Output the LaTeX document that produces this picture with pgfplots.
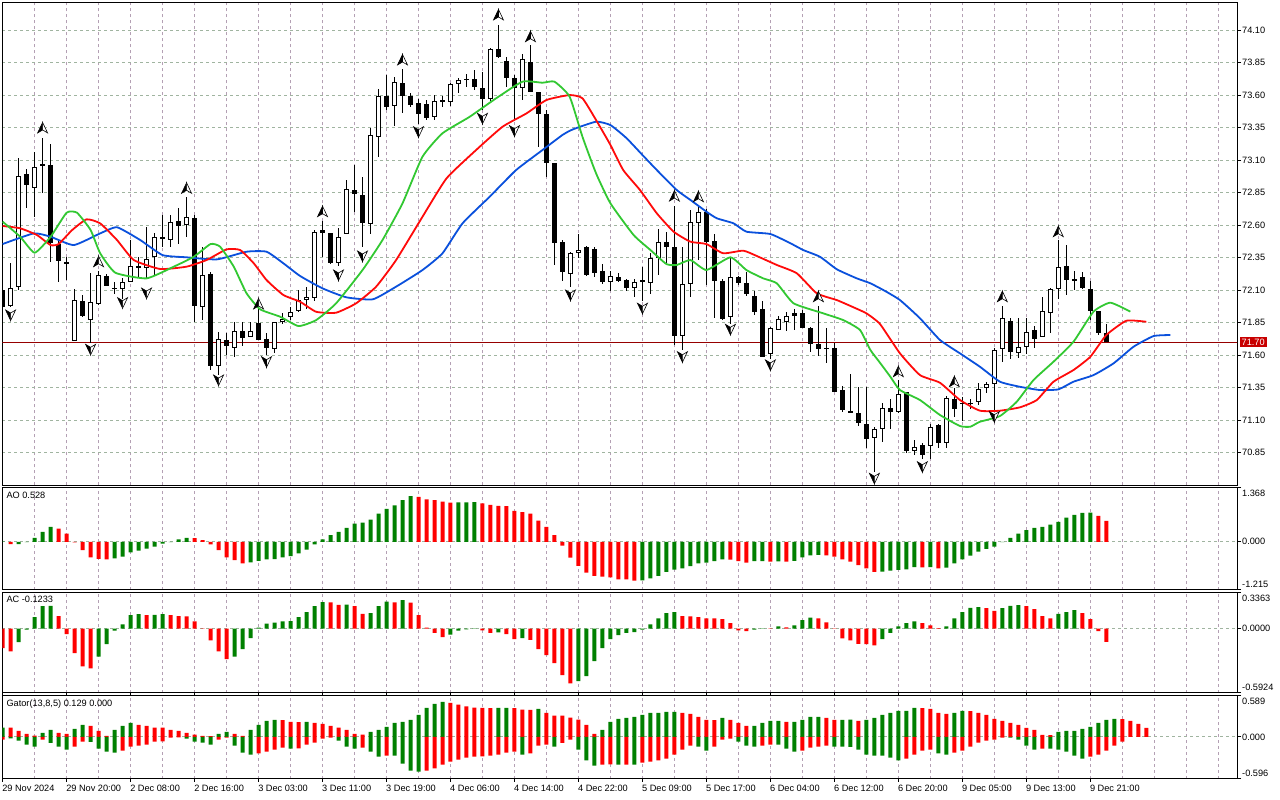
\documentclass[border=0pt]{standalone}
\usepackage{fontspec}
\setmainfont{Liberation Sans}
\usepackage{pgfplots}
\usepackage{pgfplotstable}
\pgfplotsset{compat=1.18}
\newcommand\fsz{\fontsize{9.2}{10.5}\selectfont}
\definecolor{gridv}{RGB}{180,160,180}
\definecolor{gridh}{RGB}{160,180,160}
\definecolor{mtgreen}{RGB}{0,128,0}
\definecolor{mtred}{RGB}{255,0,0}
\definecolor{jaw}{RGB}{10,80,220}
\definecolor{teeth}{RGB}{255,10,10}
\definecolor{lips}{RGB}{50,200,50}
\definecolor{pricered}{RGB}{200,0,0}
\definecolor{pline}{RGB}{150,0,0}

\pgfdeclareplotmark{fup}{%
  \pgfpathmoveto{\pgfqpoint{0pt}{5.5pt}}%
  \pgfpathlineto{\pgfqpoint{-5pt}{-5pt}}%
  \pgfpathlineto{\pgfqpoint{0pt}{-2pt}}%
  \pgfpathclose
  \pgfsetfillcolor{black}\pgfusepath{fill,stroke}%
  \pgfpathmoveto{\pgfqpoint{0pt}{5.5pt}}%
  \pgfpathlineto{\pgfqpoint{5pt}{-5pt}}%
  \pgfpathlineto{\pgfqpoint{0pt}{-2pt}}%
  \pgfpathclose
  \pgfsetfillcolor{white}\pgfusepath{fill,stroke}%
}
\pgfdeclareplotmark{fdn}{%
  \pgfpathmoveto{\pgfqpoint{0pt}{-5.5pt}}%
  \pgfpathlineto{\pgfqpoint{-5pt}{5pt}}%
  \pgfpathlineto{\pgfqpoint{0pt}{2pt}}%
  \pgfpathclose
  \pgfsetfillcolor{black}\pgfusepath{fill,stroke}%
  \pgfpathmoveto{\pgfqpoint{0pt}{-5.5pt}}%
  \pgfpathlineto{\pgfqpoint{5pt}{5pt}}%
  \pgfpathlineto{\pgfqpoint{0pt}{2pt}}%
  \pgfpathclose
  \pgfsetfillcolor{white}\pgfusepath{fill,stroke}%
}

\pgfplotstableread{
k O H L C
0 72.100 72.155 71.948 71.971
1 71.981 72.311 71.970 72.122
2 72.122 73.122 72.101 72.978
3 72.994 73.037 72.730 72.907
4 72.891 73.165 72.665 73.050
5 73.068 73.268 72.845 73.063
6 73.063 73.224 72.319 72.465
7 72.460 72.486 72.165 72.327
8 72.319 72.357 72.178 72.309
9 71.711 72.107 71.711 72.024
10 72.019 72.063 71.891 71.904
11 71.876 72.230 71.696 72.007
12 71.991 72.250 71.991 72.217
13 72.209 72.224 72.132 72.132
14 72.119 72.165 72.076 72.115
15 72.109 72.191 72.037 72.165
16 72.165 72.486 72.165 72.286
17 72.283 72.357 72.204 72.279
18 72.268 72.584 72.191 72.337
19 72.353 72.542 72.217 72.507
20 72.502 72.678 72.430 72.506
21 72.486 72.678 72.430 72.627
22 72.632 72.730 72.460 72.596
23 72.599 72.814 72.507 72.665
24 72.660 72.678 71.857 71.981
25 71.973 72.434 71.870 72.222
26 72.222 72.240 71.486 71.517
27 71.517 71.781 71.447 71.722
28 71.717 71.768 71.601 71.673
29 71.660 71.857 71.584 71.786
30 71.786 71.857 71.670 71.737
31 71.742 71.857 71.742 71.786
32 71.845 71.963 71.717 71.717
33 71.722 71.768 71.601 71.653
34 71.645 71.857 71.619 71.857
35 71.853 71.922 71.840 71.883
36 71.891 71.968 71.870 71.934
37 71.942 72.101 71.934 72.024
38 72.024 72.122 71.960 72.050
39 72.045 72.563 72.019 72.550
40 72.563 72.634 72.357 72.537
41 72.542 72.542 72.301 72.311
42 72.311 72.576 72.286 72.511
43 72.530 72.947 72.530 72.876
44 72.876 73.063 72.704 72.845
45 72.832 72.973 72.430 72.614
46 72.607 73.345 72.537 73.294
47 73.281 73.645 73.127 73.594
48 73.594 73.755 73.486 73.511
49 73.519 73.742 73.363 73.704
50 73.696 73.799 73.465 73.594
51 73.594 73.619 73.511 73.524
52 73.542 73.568 73.378 73.455
53 73.532 73.563 73.409 73.422
54 73.430 73.601 73.409 73.557
55 73.555 73.594 73.511 73.559
56 73.550 73.696 73.517 73.686
57 73.686 73.730 73.619 73.717
58 73.720 73.763 73.665 73.724
59 73.722 73.794 73.640 73.660
60 73.660 73.781 73.486 73.568
61 73.568 73.960 73.557 73.953
62 73.953 74.140 73.884 73.896
63 73.863 73.896 73.660 73.730
64 73.730 73.755 73.409 73.653
65 73.653 73.922 73.563 73.876
66 73.857 73.986 73.627 73.627
67 73.627 73.627 73.204 73.455
68 73.455 73.486 72.973 73.076
69 73.076 73.076 72.294 72.460
70 72.468 72.486 72.173 72.242
71 72.222 72.396 72.122 72.384
72 72.384 72.537 72.345 72.414
73 72.430 72.440 72.209 72.217
74 72.417 72.430 72.204 72.234
75 72.247 72.301 72.145 72.165
76 72.165 72.247 72.096 72.211
77 72.204 72.234 72.165 72.173
78 72.178 72.191 72.096 72.119
79 72.114 72.186 72.050 72.165
80 72.169 72.281 72.019 72.173
81 72.153 72.384 72.071 72.345
82 72.345 72.568 72.217 72.468
83 72.468 72.550 72.307 72.434
84 72.430 72.747 71.678 71.747
85 71.747 72.434 71.645 72.145
86 72.145 72.717 72.050 72.627
87 72.614 72.747 72.332 72.699
88 72.704 72.722 72.140 72.473
89 72.480 72.532 71.884 72.173
90 72.171 72.191 71.870 71.878
91 71.891 72.345 71.840 72.199
92 72.204 72.209 72.140 72.153
93 72.153 72.242 72.055 72.068
94 72.055 72.096 71.909 71.934
95 71.953 72.017 71.584 71.588
96 71.607 71.819 71.576 71.807
97 71.794 71.904 71.794 71.876
98 71.857 71.934 71.786 71.904
99 71.904 71.953 71.794 71.922
100 71.922 71.948 71.807 71.811
101 71.814 71.819 71.627 71.691
102 71.691 71.978 71.594 71.653
103 71.651 71.814 71.542 71.655
104 71.653 71.691 71.319 71.319
105 71.332 71.363 71.165 71.178
106 71.173 71.455 71.153 71.153
107 71.153 71.353 71.055 71.080
108 71.071 71.358 70.884 70.953
109 70.961 71.050 70.704 71.030
110 71.030 71.230 70.934 71.191
111 71.199 71.261 71.030 71.165
112 71.165 71.409 71.153 71.301
113 71.314 71.314 70.850 70.865
114 70.865 70.947 70.832 70.896
115 70.909 70.927 70.799 70.832
116 70.901 71.071 70.799 71.050
117 71.061 71.071 70.884 70.922
118 70.927 71.286 70.884 71.268
119 71.268 71.345 71.127 71.191
120 71.228 71.281 71.096 71.232
121 71.232 71.261 71.184 71.228
122 71.242 71.384 71.217 71.345
123 71.345 71.396 71.311 71.378
124 71.378 71.653 71.178 71.645
125 71.645 71.978 71.550 71.884
126 71.863 71.884 71.568 71.627
127 71.614 71.884 71.576 71.660
128 71.660 71.884 71.614 71.781
129 71.794 71.824 71.653 71.722
130 71.737 72.050 71.737 71.940
131 71.922 72.115 71.773 72.107
132 72.107 72.486 72.030 72.276
133 72.286 72.448 72.063 72.178
134 72.171 72.250 72.101 72.186
135 72.199 72.242 72.107 72.114
136 72.107 72.173 71.870 71.942
137 71.942 71.942 71.755 71.773
138 71.773 71.845 71.700 71.700
}\candles

\pgfplotstableread{
k v c
0 0.005 1
1 -0.059 0
2 -0.059 1
3 -0.009 1
4 0.101 1
5 0.250 1
6 0.375 1
7 0.330 0
8 0.205 0
9 -0.018 0
10 -0.210 0
11 -0.390 0
12 -0.430 0
13 -0.446 0
14 -0.420 1
15 -0.375 1
16 -0.270 1
17 -0.220 1
18 -0.170 1
19 -0.125 1
20 -0.045 1
21 -0.010 1
22 0.060 1
23 0.100 1
24 0.090 0
25 0.042 0
26 -0.067 0
27 -0.210 0
28 -0.390 0
29 -0.460 0
30 -0.545 0
31 -0.520 1
32 -0.480 1
33 -0.446 1
34 -0.437 1
35 -0.390 1
36 -0.360 1
37 -0.290 1
38 -0.196 1
39 -0.067 1
40 0.059 1
41 0.170 1
42 0.250 1
43 0.350 1
44 0.460 1
45 0.480 1
46 0.560 1
47 0.710 1
48 0.830 1
49 0.920 1
50 1.050 1
51 1.150 1
52 1.130 0
53 1.070 0
54 1.050 0
55 1.010 0
56 0.985 0
57 0.990 1
58 0.995 1
59 1.000 1
60 0.965 0
61 0.930 0
62 0.905 0
63 0.900 0
64 0.780 0
65 0.750 0
66 0.710 0
67 0.530 0
68 0.375 0
69 0.170 0
70 -0.100 0
71 -0.400 0
72 -0.610 0
73 -0.780 0
74 -0.860 0
75 -0.880 0
76 -0.900 0
77 -0.945 0
78 -0.950 0
79 -0.980 0
80 -0.975 1
81 -0.920 1
82 -0.860 1
83 -0.760 1
84 -0.700 1
85 -0.670 1
86 -0.615 1
87 -0.545 1
88 -0.525 1
89 -0.490 1
90 -0.445 1
91 -0.450 0
92 -0.490 0
93 -0.525 0
94 -0.490 1
95 -0.488 1
96 -0.500 0
97 -0.495 1
98 -0.500 0
99 -0.480 1
100 -0.390 1
101 -0.340 1
102 -0.330 1
103 -0.340 0
104 -0.375 0
105 -0.445 0
106 -0.500 0
107 -0.590 0
108 -0.670 0
109 -0.760 0
110 -0.755 1
111 -0.730 1
112 -0.710 1
113 -0.695 1
114 -0.640 1
115 -0.645 0
116 -0.640 1
117 -0.670 0
118 -0.650 1
119 -0.545 1
120 -0.445 1
121 -0.350 1
122 -0.250 1
123 -0.180 1
124 -0.125 1
125 -0.010 1
126 0.100 1
127 0.205 1
128 0.295 1
129 0.350 1
130 0.375 1
131 0.430 1
132 0.500 1
133 0.610 1
134 0.680 1
135 0.730 1
136 0.735 1
137 0.650 0
138 0.528 0
}\aotab

\pgfplotstableread{
k v c
0 -0.180 0
1 -0.210 0
2 -0.124 1
3 -0.010 1
4 0.106 1
5 0.208 1
6 0.210 1
7 0.115 0
8 -0.050 0
9 -0.227 0
10 -0.350 0
11 -0.367 0
12 -0.258 1
13 -0.143 1
14 -0.019 1
15 0.040 1
16 0.124 1
17 0.134 1
18 0.124 0
19 0.128 1
20 0.134 1
21 0.124 0
22 0.115 0
23 0.113 0
24 0.068 0
25 -0.003 0
26 -0.109 0
27 -0.210 0
28 -0.283 0
29 -0.258 1
30 -0.190 1
31 -0.087 1
32 0.009 1
33 0.047 1
34 0.056 1
35 0.068 1
36 0.070 1
37 0.106 1
38 0.152 1
39 0.208 1
40 0.246 1
41 0.244 0
42 0.220 0
43 0.222 1
44 0.208 0
45 0.137 0
46 0.143 1
47 0.208 1
48 0.249 1
49 0.243 0
50 0.264 1
51 0.240 0
52 0.124 0
53 0.009 0
54 -0.040 0
55 -0.078 0
56 -0.056 1
57 -0.019 1
58 -0.006 1
59 -0.003 1
60 -0.016 0
61 -0.040 0
62 -0.034 1
63 -0.050 0
64 -0.096 0
65 -0.087 1
66 -0.103 0
67 -0.190 0
68 -0.246 0
69 -0.320 0
70 -0.430 0
71 -0.507 0
72 -0.485 1
73 -0.440 1
74 -0.300 1
75 -0.180 1
76 -0.096 1
77 -0.059 1
78 -0.040 1
79 -0.031 1
80 -0.009 1
81 0.040 1
82 0.096 1
83 0.143 1
84 0.152 1
85 0.115 0
86 0.113 0
87 0.106 0
88 0.096 0
89 0.094 0
90 0.087 0
91 0.050 0
92 -0.016 0
93 -0.022 0
94 -0.009 1
95 0.003 1
96 0.002 0
97 0.022 1
98 0.012 0
99 0.031 1
100 0.078 1
101 0.103 1
102 0.096 0
103 0.059 0
104 -0.003 0
105 -0.090 0
106 -0.109 0
107 -0.140 0
108 -0.142 0
109 -0.155 0
110 -0.096 1
111 -0.040 1
112 0.022 1
113 0.050 1
114 0.068 1
115 0.050 0
116 0.031 0
117 0.006 0
118 0.022 1
119 0.096 1
120 0.152 1
121 0.193 1
122 0.199 1
123 0.190 0
124 0.165 0
125 0.190 1
126 0.211 1
127 0.218 1
128 0.208 0
129 0.180 0
130 0.115 0
131 0.096 0
132 0.137 1
133 0.152 1
134 0.171 1
135 0.143 0
136 0.087 0
137 -0.022 0
138 -0.123 0
}\actab

\pgfplotstableread{
k u uc l lc
0 0.132 1 -0.038 0
1 0.132 0 -0.020 1
2 0.085 0 -0.052 1
3 0.042 0 -0.108 1
4 0.019 0 -0.137 1
5 0.057 1 -0.038 0
6 0.099 1 -0.085 1
7 0.057 0 -0.137 1
8 0.042 0 -0.179 1
9 0.113 1 -0.137 0
10 0.170 1 -0.066 0
11 0.155 0 -0.070 1
12 0.085 0 -0.165 1
13 0.014 0 -0.207 1
14 0.099 1 -0.221 1
15 0.155 1 -0.193 0
16 0.198 1 -0.137 0
17 0.170 0 -0.122 0
18 0.155 0 -0.108 0
19 0.132 0 -0.066 0
20 0.130 0 -0.064 0
21 0.099 0 -0.009 0
22 0.085 0 -0.008 0
23 0.057 0 -0.024 1
24 0.033 0 -0.066 1
25 0.014 0 -0.080 1
26 0.012 0 -0.108 1
27 0.042 1 -0.038 0
28 0.071 1 -0.009 0
29 0.042 0 -0.122 1
30 0.014 0 -0.221 1
31 0.099 1 -0.250 1
32 0.170 1 -0.235 0
33 0.226 1 -0.207 0
34 0.240 1 -0.179 0
35 0.238 0 -0.151 0
36 0.212 0 -0.165 1
37 0.210 0 -0.163 0
38 0.213 1 -0.108 0
39 0.198 0 -0.080 0
40 0.184 0 -0.024 0
41 0.155 0 -0.009 0
42 0.132 0 -0.052 1
43 0.099 0 -0.137 1
44 0.042 0 -0.165 1
45 0.033 0 -0.151 0
46 0.071 1 -0.207 1
47 0.099 1 -0.278 1
48 0.141 1 -0.264 0
49 0.198 1 -0.266 1
50 0.212 1 -0.377 1
51 0.240 1 -0.476 1
52 0.311 1 -0.490 1
53 0.410 1 -0.476 0
54 0.466 1 -0.447 0
55 0.495 1 -0.391 0
56 0.480 0 -0.349 0
57 0.457 0 -0.320 0
58 0.433 0 -0.292 0
59 0.414 0 -0.278 0
60 0.410 0 -0.276 0
61 0.408 0 -0.264 0
62 0.410 1 -0.250 0
63 0.412 1 -0.221 0
64 0.409 0 -0.207 0
65 0.386 0 -0.250 1
66 0.384 0 -0.235 0
67 0.396 1 -0.122 0
68 0.339 0 -0.108 0
69 0.301 0 -0.137 1
70 0.300 0 -0.085 0
71 0.273 0 -0.038 0
72 0.245 0 -0.179 1
73 0.170 0 -0.334 1
74 0.042 0 -0.405 1
75 0.099 1 -0.391 0
76 0.212 1 -0.389 0
77 0.254 1 -0.393 1
78 0.268 1 -0.391 0
79 0.283 1 -0.393 1
80 0.311 1 -0.363 0
81 0.339 1 -0.349 0
82 0.340 1 -0.334 0
83 0.353 1 -0.306 0
84 0.355 1 -0.250 0
85 0.339 0 -0.179 0
86 0.325 0 -0.122 0
87 0.283 0 -0.137 1
88 0.240 0 -0.193 1
89 0.238 0 -0.137 0
90 0.268 1 -0.038 0
91 0.240 0 -0.024 0
92 0.198 0 -0.066 1
93 0.155 0 -0.122 1
94 0.157 1 -0.137 1
95 0.198 1 -0.122 0
96 0.226 1 -0.108 0
97 0.228 1 -0.110 1
98 0.212 0 -0.165 1
99 0.214 1 -0.207 1
100 0.240 1 -0.193 0
101 0.283 1 -0.151 0
102 0.285 1 -0.137 0
103 0.268 0 -0.122 0
104 0.240 0 -0.137 1
105 0.242 1 -0.139 1
106 0.244 1 -0.140 1
107 0.226 0 -0.179 1
108 0.240 1 -0.250 1
109 0.268 1 -0.264 1
110 0.311 1 -0.266 1
111 0.339 1 -0.292 1
112 0.367 1 -0.334 1
113 0.369 1 -0.306 0
114 0.410 1 -0.250 0
115 0.408 0 -0.193 0
116 0.396 0 -0.179 0
117 0.339 0 -0.235 1
118 0.325 0 -0.250 1
119 0.339 1 -0.221 0
120 0.367 1 -0.193 0
121 0.365 0 -0.137 0
122 0.339 0 -0.080 0
123 0.311 0 -0.052 0
124 0.254 0 -0.038 0
125 0.226 0 -0.009 0
126 0.198 0 -0.010 1
127 0.170 0 -0.038 1
128 0.127 0 -0.122 1
129 0.099 0 -0.179 1
130 0.028 0 -0.165 0
131 0.026 0 -0.166 1
132 0.071 1 -0.179 1
133 0.085 1 -0.207 1
134 0.087 1 -0.264 1
135 0.113 1 -0.306 1
136 0.141 1 -0.278 0
137 0.198 1 -0.250 0
138 0.240 1 -0.193 0
139 0.254 1 -0.122 0
140 0.252 0 -0.066 0
141 0.226 0 0 2
142 0.184 0 0 2
143 0.129 0 0 2
}\gatortab

\pgfplotsset{
  panel/.style={
    scale only axis, width=1234.7pt,
    xmin=-0.04, xmax=154.34,
    axis line style={line width=1pt, black},
    xtick={0,4,...,152}, xticklabels={}, xtick style={draw=none},
    xmajorgrids,
    major x grid style={gridv, dash pattern=on 3pt off 3pt, line width=0.8pt},
    major y grid style={gridh, dash pattern=on 3pt off 3pt, line width=0.8pt},
    ytick pos=right, yticklabel pos=right,
    tick align=outside, major tick length=4pt,
    ytick style={black, line width=1pt},
    yticklabel style={font=\fsz, inner sep=0pt, xshift=1pt, anchor=west},
    ymajorgrids,
  },
  gbar/.style={ybar, bar width=4pt, bar shift=0pt, draw=none, fill=mtgreen},
  rbar/.style={ybar, bar width=4pt, bar shift=0pt, draw=none, fill=mtred},
}

\begin{document}
\begin{tikzpicture}

% ---------------- main price panel ----------------
\begin{axis}[panel, name=main,
  at={(2.3pt,797.7pt)}, anchor=north west, height=483pt,
  ymin=70.5992, ymax=74.3146,
  ytick={70.85,71.10,71.35,71.60,71.85,72.10,72.35,72.60,72.85,73.10,73.35,73.60,73.85,74.10},
  yticklabels={70.85,71.10,71.35,71.60,71.85,72.10,72.35,72.60,72.85,73.10,73.35,73.60,73.85,74.10},
]
\addplot[pline, line width=0.7pt, forget plot] coordinates {(-1,71.70) (160,71.70)};
% wicks
\addplot[draw=none, mark=none, forget plot,
  error bars/.cd, y dir=both, y explicit, error mark=none,
  error bar style={draw=black, line width=1pt, solid}]
  table[x=k, y expr={(\thisrow{H}+\thisrow{L})/2}, y error expr={(\thisrow{H}-\thisrow{L})/2}] {\candles};
% bodies
\addplot[draw=none, mark=none, forget plot,
  error bars/.cd, y dir=both, y explicit, error mark=none,
  error bar style={draw=black, line width=5pt, solid}]
  table[x=k, y expr={(\thisrow{O}+\thisrow{C})/2}, y error expr={max(abs(\thisrow{C}-\thisrow{O})/2,0.0045)}] {\candles};
% hollow (bullish) bodies
\addplot[draw=none, mark=none, forget plot,
  restrict expr to domain={\thisrow{C}-\thisrow{O}}{0.02:10},
  error bars/.cd, y dir=both, y explicit, error mark=none,
  error bar style={draw=white, line width=3pt, solid}]
  table[x=k, y expr={(\thisrow{O}+\thisrow{C})/2}, y error expr={(\thisrow{C}-\thisrow{O})/2-0.0077}] {\candles};
% Alligator
\addplot[jaw, line width=1.8pt, smooth, tension=0.3] coordinates {
(0,72.455) (3.9,72.537) (6,72.511) (8.9,72.447) (12.2,72.537) (14.3,72.584) (17.2,72.486) (20,72.370) (23,72.353) (26.8,72.337) (30.5,72.396) (33,72.396) (35.1,72.307) (37.2,72.209) (40,72.114) (43,72.045) (46.3,72.030) (49.2,72.127) (52.5,72.255) (55,72.384) (57.5,72.614) (60.9,72.819) (64.2,73.024) (67.5,73.178) (70,73.294) (71.3,73.337) (74.2,73.396) (76,73.370) (78,73.270) (80,73.140) (81.8,73.024) (84.3,72.870) (86,72.794) (88,72.704) (89.3,72.653) (91.4,72.614) (93,72.550) (96,72.532) (98.5,72.461) (100.1,72.409) (102.2,72.357) (104.3,72.261) (106.8,72.191) (108.5,72.153) (110.3,72.095) (112.2,72.024) (114.7,71.884) (117.2,71.717) (119.7,71.614) (122.2,71.511) (124.7,71.396) (127.2,71.357) (129.7,71.332) (132,71.337) (133.9,71.396) (136.4,71.447) (138.9,71.537) (141.4,71.665) (143.9,71.747) (146,71.755)};
\addplot[teeth, line width=1.8pt, smooth, tension=0.3] coordinates {
(0,72.594) (2.2,72.576) (4.3,72.524) (6,72.447) (7,72.455) (8.7,72.563) (10.5,72.645) (12.2,72.614) (14.3,72.486) (16.4,72.332) (19.7,72.263) (23,72.281) (25.5,72.332) (28,72.414) (29.7,72.409) (31.4,72.307) (33,72.178) (35.1,72.063) (37.2,72.011) (39.2,71.934) (41.7,71.927) (44.2,71.999) (46.7,72.127) (49.2,72.332) (52.5,72.665) (55.5,72.960) (59.2,73.178) (62.5,73.357) (65.5,73.460) (68,73.563) (70.9,73.601) (72.5,73.576) (74.2,73.409) (76,73.217) (77.6,73.024) (79.7,72.870) (81.8,72.691) (83.9,72.550) (86,72.473) (88,72.455) (90.1,72.384) (92.6,72.404) (94.3,72.363) (96.8,72.294) (99.3,72.230) (101.8,72.076) (104.3,72.024) (106.4,71.968) (108,71.922) (109.7,71.840) (112.2,71.614) (114.7,71.447) (117.2,71.388) (119.7,71.255) (122.2,71.173) (124.7,71.173) (127.2,71.199) (129.3,71.255) (131.4,71.396) (133.9,71.486) (136,71.588) (138,71.755) (140.5,71.865) (143,71.857)};
\addplot[lips, line width=1.8pt, smooth, tension=0.3] coordinates {
(0,72.627) (2.2,72.511) (4,72.388) (6,72.511) (8,72.696) (9.3,72.696) (11,72.563) (12.2,72.384) (14.1,72.234) (18,72.191) (21.4,72.281) (23.9,72.357) (26,72.455) (27.2,72.434) (28.9,72.281) (30.5,72.076) (32.2,71.953) (34.7,71.896) (37,71.824) (39.2,71.870) (41.7,71.999) (45,72.255) (47.5,72.486) (50,72.768) (52.5,73.127) (55,73.307) (58.4,73.434) (61.7,73.576) (65,73.704) (67.5,73.696) (69,73.704) (70.9,73.588) (72.5,73.280) (74.2,72.999) (76,72.768) (78.9,72.524) (81,72.409) (83,72.301) (84.3,72.294) (86,72.332) (88,72.255) (91,72.353) (93,72.255) (95.1,72.191) (96.8,72.153) (98.9,71.999) (102.6,71.922) (105.1,71.870) (107.2,71.794) (108.5,71.640) (109.7,71.542) (111,71.434) (112.2,71.332) (114.7,71.255) (117.2,71.140) (119.7,71.055) (121,71.050) (122.2,71.088) (124.7,71.132) (126.8,71.242) (128.9,71.409) (131.4,71.550) (133.9,71.704) (136.4,71.935) (138.5,72.004) (141,71.935)};
% Fractals
\addplot[only marks, mark=fup, mark options={draw=black, line width=0.6pt}] coordinates {
(5,73.348) (12,72.319) (23,72.884) (32,71.994) (40,72.704) (50,73.871) (62,74.217) (66,74.050) (84,72.824) (87,72.819) (102,72.050) (112,71.473) (119,71.396) (125,72.050) (132,72.550)};
\addplot[only marks, mark=fdn, mark options={draw=black, line width=0.6pt}] coordinates {
(1,71.909) (11,71.645) (15,72.004) (18,72.078) (27,71.409) (33,71.550) (42,72.217) (45,72.363) (52,73.319) (60,73.422) (64,73.327) (71,72.063) (80,71.961) (85,71.588) (91,71.799) (96,71.525) (109,70.653) (115,70.742) (124,71.127)};
\coordinate (pl) at (axis cs:154.34,71.70);
\end{axis}
\node[fill=pricered, text=white, font=\fsz, inner xsep=2pt, inner ysep=1.5pt, anchor=west] at ([xshift=2.5pt]pl) {71.70};

% ---------------- AO ----------------
\begin{axis}[panel, name=ao,
  at={(2.3pt,312.5pt)}, anchor=north west, height=102.5pt,
  ymin=-1.215, ymax=1.368,
  ytick={0}, yticklabels={0.000},
  extra y ticks={-1.215,1.368}, extra y tick labels={,}, extra y tick style={grid=none},
]
\addplot[gbar, restrict expr to domain={\thisrow{c}}{0.5:1.5}] table[x=k, y=v] {\aotab};
\addplot[rbar, restrict expr to domain={\thisrow{c}}{-0.5:0.5}] table[x=k, y=v] {\aotab};
\end{axis}
\node[font=\fsz, anchor=north west, inner sep=0pt] at ([xshift=4pt,yshift=-4pt]ao.north west) {AO 0.528};
\node[font=\fsz, anchor=north west, inner sep=0pt] at ([xshift=5pt,yshift=-2.5pt]ao.north east) {1.368};
\node[font=\fsz, anchor=south west, inner sep=0pt] at ([xshift=5pt,yshift=2pt]ao.south east) {-1.215};

% ---------------- AC ----------------
\begin{axis}[panel, name=ac,
  at={(2.3pt,207.7pt)}, anchor=north west, height=100.4pt,
  ymin=-0.5924, ymax=0.3363,
  ytick={0}, yticklabels={0.0000},
  extra y ticks={-0.5924,0.3363}, extra y tick labels={,}, extra y tick style={grid=none},
]
\addplot[gbar, restrict expr to domain={\thisrow{c}}{0.5:1.5}] table[x=k, y=v] {\actab};
\addplot[rbar, restrict expr to domain={\thisrow{c}}{-0.5:0.5}] table[x=k, y=v] {\actab};
\end{axis}
\node[font=\fsz, anchor=north west, inner sep=0pt] at ([xshift=4pt,yshift=-4pt]ac.north west) {AC -0.1233};
\node[font=\fsz, anchor=north west, inner sep=0pt] at ([xshift=5pt,yshift=-2.5pt]ac.north east) {0.3363};
\node[font=\fsz, anchor=south west, inner sep=0pt] at ([xshift=5pt,yshift=2pt]ac.south east) {-0.5924};

% ---------------- Gator ----------------
\begin{axis}[panel, name=gator,
  at={(2.3pt,104.7pt)}, anchor=north west, height=83.7pt,
  ymin=-0.596, ymax=0.589,
  ytick={0}, yticklabels={0.000},
  extra y ticks={-0.596,0.589}, extra y tick labels={,}, extra y tick style={grid=none},
  extra x ticks={0,8,...,136},
  extra x tick labels={29 Nov 2024,29 Nov 20:00,2 Dec 08:00,2 Dec 16:00,3 Dec 03:00,3 Dec 11:00,3 Dec 19:00,4 Dec 06:00,4 Dec 14:00,4 Dec 22:00,5 Dec 09:00,5 Dec 17:00,6 Dec 04:00,6 Dec 12:00,6 Dec 20:00,9 Dec 05:00,9 Dec 13:00,9 Dec 21:00},
  extra x tick style={grid=none, xtick style={draw=black, line width=1pt}, major tick length=3pt,
     xticklabel style={font=\fsz, anchor=north west, inner sep=0pt, xshift=-0.5pt, yshift=-2.5pt}},
]
\addplot[gbar, restrict expr to domain={\thisrow{uc}}{0.5:1.5}] table[x=k, y=u] {\gatortab};
\addplot[rbar, restrict expr to domain={\thisrow{uc}}{-0.5:0.5}] table[x=k, y=u] {\gatortab};
\addplot[gbar, restrict expr to domain={\thisrow{lc}}{0.5:1.5}] table[x=k, y=l] {\gatortab};
\addplot[rbar, restrict expr to domain={\thisrow{lc}}{-0.5:0.5}] table[x=k, y=l] {\gatortab};
\end{axis}
\node[font=\fsz, anchor=north west, inner sep=0pt] at ([xshift=4pt,yshift=-4pt]gator.north west) {Gator(13,8,5) 0.129 0.000};
\node[font=\fsz, anchor=north west, inner sep=0pt] at ([xshift=5pt,yshift=-2.5pt]gator.north east) {0.589};
\node[font=\fsz, anchor=south west, inner sep=0pt] at ([xshift=5pt,yshift=2pt]gator.south east) {-0.596};

\pgfresetboundingbox
\useasboundingbox (0pt,0pt) rectangle (1280pt,800pt);
\end{tikzpicture}
\end{document}
